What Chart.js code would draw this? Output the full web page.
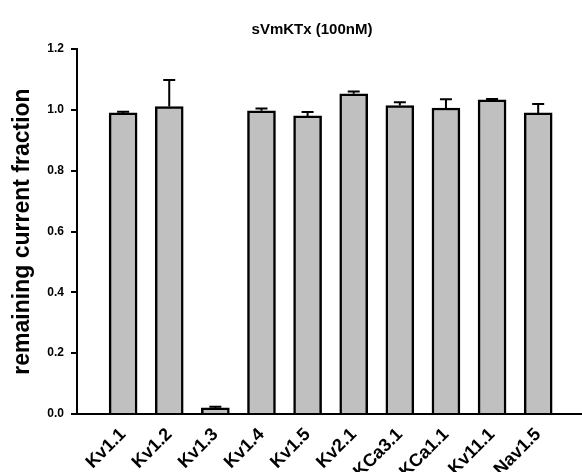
<!DOCTYPE html>
<html>
<head>
<meta charset="utf-8">
<script src="https://cdn.jsdelivr.net/npm/chart.js@4/dist/chart.umd.min.js"></script>
<style>
  html, body { margin: 0; padding: 0; background: #fff; }
  #c { display: block; }
</style>
</head>
<body>
<canvas id="c" width="582" height="472"></canvas>
<script>
const categories = ['Kv1.1', 'Kv1.2', 'Kv1.3', 'Kv1.4', 'Kv1.5', 'Kv2.1', 'KCa3.1', 'KCa1.1', 'Kv11.1', 'Nav1.5'];
const means = [0.990, 1.011, 0.020, 0.997, 0.980, 1.053, 1.014, 1.006, 1.033, 0.990];
const errors = [0.004, 0.087, 0.004, 0.007, 0.013, 0.007, 0.011, 0.029, 0.003, 0.029];
const yTicks = [0.0, 0.2, 0.4, 0.6, 0.8, 1.0, 1.2];
const chartTitle = 'sVmKTx (100nM)';
const yTitle = 'remaining current fraction';

const FONT = "'Liberation Sans', Arial, sans-serif";

const errorBarPlugin = {
  id: 'errorBars',
  afterDatasetsDraw(chart) {
    const ctx = chart.ctx;
    const meta = chart.getDatasetMeta(0);
    const ys = chart.scales.y;
    ctx.save();
    ctx.strokeStyle = '#000';
    ctx.lineWidth = 2;
    meta.data.forEach((bar, i) => {
      const x = bar.x;
      const yTop = ys.getPixelForValue(means[i] + errors[i]);
      const yBar = bar.y;
      ctx.beginPath();
      ctx.moveTo(x, yBar);
      ctx.lineTo(x, yTop);
      ctx.moveTo(x - 6, yTop);
      ctx.lineTo(x + 6, yTop);
      ctx.stroke();
    });
    ctx.restore();
  }
};

const titlePlugin = {
  id: 'offsetTitle',
  afterDraw(chart) {
    const ctx = chart.ctx;
    ctx.save();
    ctx.fillStyle = '#000';
    ctx.font = "bold 15px " + FONT;
    ctx.textAlign = 'center';
    ctx.textBaseline = 'middle';
    ctx.fillText(chartTitle, 312, 30);
    ctx.restore();
  }
};

new Chart(document.getElementById('c'), {
  type: 'bar',
  data: {
    datasets: [{
      data: categories.map((c, i) => ({ x: i + 1, y: means[i] })),
      backgroundColor: '#c0c0c0',
      borderColor: '#000',
      borderWidth: 2.5,
      borderSkipped: 'bottom',
      barThickness: 28
    }]
  },
  options: {
    responsive: false,
    animation: false,
    layout: { padding: { top: 49, left: 0, right: 0, bottom: 0 } },
    plugins: {
      legend: { display: false },
      tooltip: { enabled: false },
      title: { display: false }
    },
    scales: {
      x: {
        type: 'linear',
        offset: false,
        min: 0,
        max: 10.95,
        grid: { display: false, offset: false },
        border: { color: '#000', width: 2 },
        afterBuildTicks: (s) => { s.ticks = categories.map((c, i) => ({ value: i + 1 })); },
        afterFit: (s) => { s.height = 58; s.paddingLeft = 0; s.paddingRight = 0; },
        ticks: {
          autoSkip: false,
          minRotation: 45,
          maxRotation: 45,
          padding: 2,
          color: '#000',
          font: { family: FONT, size: 18, weight: 'bold' },
          callback: (v) => categories[Math.round(v) - 1]
        }
      },
      y: {
        min: 0,
        max: 1.2,
        afterBuildTicks: (s) => { s.ticks = yTicks.map(v => ({ value: v })); },
        afterFit: (s) => { s.width = 77; s.paddingTop = 0; s.paddingBottom = 0; },
        grid: { drawOnChartArea: false, drawTicks: true, tickLength: 6, color: '#000', lineWidth: 2 },
        border: { color: '#000', width: 2 },
        ticks: {
          padding: 7,
          color: '#000',
          font: { family: FONT, size: 12, weight: 'bold' },
          callback: (v) => Number(v).toFixed(1)
        },
        title: {
          display: true,
          text: yTitle,
          color: '#000',
          font: { family: FONT, size: 23, weight: 'bold' },
          padding: { top: 9, bottom: 0 }
        }
      }
    }
  },
  plugins: [errorBarPlugin, titlePlugin]
});
</script>
</body>
</html>
